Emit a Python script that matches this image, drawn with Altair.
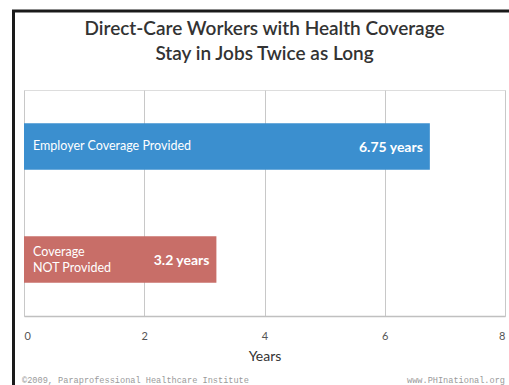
import altair as alt
import pandas as pd

categories = ["Employer Coverage Provided", "Coverage\nNOT Provided"]
values = [6.75, 3.2]
value_labels = ["6.75 years", "3.2 years"]
colors = ["#3B8FCF", "#C86E68"]
x_ticks = [0, 2, 4, 6, 8]

df = pd.DataFrame({
    "cat": categories,
    "years": values,
    "vlabel": value_labels,
    "color": colors,
})

FONT = "Lato"

y_enc = alt.Y("cat:N", sort=categories, axis=None,
              scale=alt.Scale(paddingInner=0.59, paddingOuter=0.295))

base = alt.Chart(df)

bars = base.mark_bar(cornerRadius=0).encode(
    x=alt.X("years:Q",
            scale=alt.Scale(domain=[0, 8], nice=False),
            axis=alt.Axis(values=x_ticks, format="d", title="Years", grid=True,
                          gridColor="#c8c8c8", gridWidth=1,
                          domainColor="#c0c0c0", domainWidth=1.5,
                          ticks=False, labelPadding=14,
                          labelFont=FONT, labelFontSize=11, labelColor="#555555",
                          titleFont=FONT, titleFontSize=14, titleFontWeight="normal",
                          titleColor="#333333", titlePadding=8)),
    y=y_enc,
    color=alt.Color("color:N", scale=None),
)

cat_one = base.transform_filter(alt.datum.years > 5).mark_text(
    align="left", baseline="middle", dx=9, dy=-1, font=FONT,
    fontSize=12.5, color="white").encode(
    x=alt.datum(0), y=y_enc, text="cat:N")

cat_two = base.transform_filter(alt.datum.years <= 5).mark_text(
    align="left", baseline="middle", dx=9, dy=-8, font=FONT,
    fontSize=12.5, color="white", lineBreak="\n", lineHeight=16).encode(
    x=alt.datum(0), y=y_enc, text="cat:N")

val_text = base.mark_text(align="right", baseline="middle", dx=-7, dy=1, font=FONT,
                          fontSize=14, fontWeight="bold", color="white").encode(
    x="years:Q",
    y=y_enc,
    text="vlabel:N",
)

frame = alt.Chart(pd.DataFrame({"a": [0]})).mark_rect(
    fill=None, stroke="#1a1a1a", strokeWidth=3).encode(
    x=alt.value(-10.5), x2=alt.value(520),
    y=alt.value(-79), y2=alt.value(320),
)

footer = pd.DataFrame({
    "t": ["©2009, Paraprofessional Healthcare Institute", "www.PHInational.org"],
})
foot_left = alt.Chart(footer.iloc[[0]]).mark_text(
    align="left", baseline="middle", font="Liberation Mono", fontSize=8.6,
    color="#9a9a9a").encode(x=alt.value(-2), y=alt.value(290), text="t:N")
foot_right = alt.Chart(footer.iloc[[1]]).mark_text(
    align="right", baseline="middle", font="Liberation Mono", fontSize=8.6,
    color="#9a9a9a").encode(x=alt.value(481), y=alt.value(290), text="t:N")

chart = alt.layer(bars, cat_one, cat_two, val_text, frame, foot_left, foot_right).properties(
    width=481, height=226,
    title=alt.TitleParams(
        text=["Direct-Care Workers with Health Coverage", "Stay in Jobs Twice as Long"],
        font=FONT, fontSize=19, fontWeight=600, color="#333333",
        lineHeight=25, anchor="middle", offset=-54),
    autosize=alt.AutoSizeParams(type="none"),
    padding={"left": 24, "top": 90, "right": 4, "bottom": 69},
).configure_view(stroke=None).configure(background="white")

chart.save("out.html", embed_options={"renderer": "svg", "actions": False})
